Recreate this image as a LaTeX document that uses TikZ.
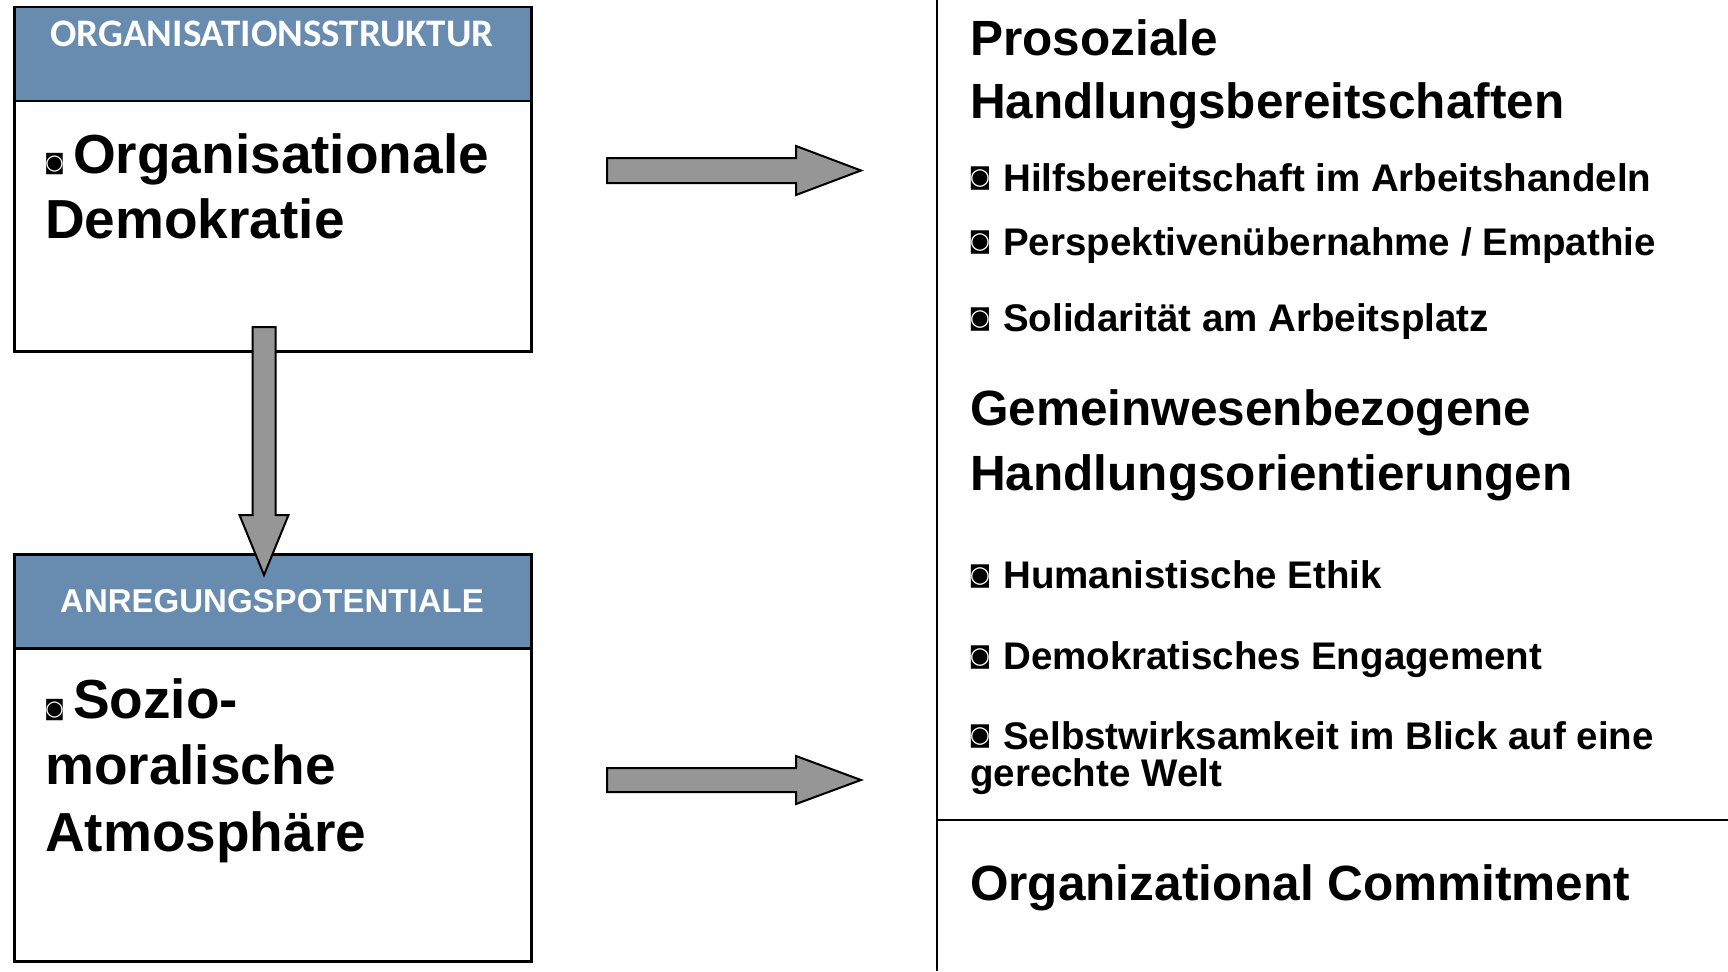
\documentclass[tikz,border=0pt]{standalone}
\usepackage{fontspec}
\setmainfont{Liberation Sans}
\newfontfamily\carl{Carlito}
\newfontfamily\dejavu{DejaVu Sans}
\definecolor{hdr}{RGB}{104,140,175}
\definecolor{arr}{RGB}{150,150,150}
\tikzset{
 box/.style={draw=black, line width=2.5pt, anchor=north west, inner sep=0pt, minimum width=517pt},
 hdrbox/.style={box, fill=hdr, minimum height=94pt},
 blockarrow/.style={draw=black, line width=2pt, fill=arr, line join=miter},
 big/.style={anchor=base west, inner sep=0pt, font={\fontsize{55}{55}\selectfont\bfseries}},
 headtxt/.style={anchor=base west, inner sep=0pt, font={\fontsize{49.5}{49.5}\selectfont\bfseries}},
 item/.style={anchor=base west, inner sep=0pt, font={\fontsize{38.5}{38.5}\selectfont\bfseries}},
 bulR/.style={inner sep=0pt, font={\dejavu\fontsize{23}{23}\selectfont}},
 bulL/.style={inner sep=0pt, font={\dejavu\fontsize{21}{21}\selectfont}},
 rule/.style={draw=black, line width=2.5pt},
}
\begin{document}
\begin{tikzpicture}[x=1pt,y=-1pt]
\useasboundingbox[fill=white] (0,0) rectangle (1728,971);
% left boxes
\node[box, minimum height=344pt] (b1) at (13,6) {};
\node[hdrbox] (h1) at (13,6) {};
\node[anchor=base, text=white, inner sep=0pt, font={\carl\fontsize{39}{39}\selectfont\bfseries}] (h1t) at (272,47) {ORGANISATIONSSTRUKTUR};
\node[bulL] (bl1) at (54.5,164) {◙};
\node[big] (t1a) at (73,173) {Organisationale};
\node[big] (t1b) at (45,238) {Demokratie};

\node[box, minimum height=407pt] (b2) at (13,553) {};
\node[hdrbox] (h2) at (13,553) {};
\node[anchor=base, text=white, inner sep=0pt, font={\fontsize{33}{33}\selectfont\bfseries}] (h2t) at (272,612) {ANREGUNGSPOTENTIALE};
\node[bulL] (bl2) at (54.5,710) {◙};
\node[big] (t2a) at (73,718) {Sozio-};
\node[big] (t2b) at (45,784) {moralische};
\node[big] (t2c) at (45,851) {Atmosphäre};

% vertical block arrow
\draw[blockarrow] (252.5,327) -- (275.5,327) -- (275.5,515) -- (288.5,515) -- (264,575) -- (239.5,515) -- (252.5,515) -- cycle;

% horizontal block arrows
\draw[blockarrow] (607,158) -- (796,158) -- (796,146) -- (861,170.5) -- (796,195) -- (796,183) -- (607,183) -- cycle;
\draw[blockarrow] (607,768) -- (796,768) -- (796,756) -- (861,780) -- (796,804) -- (796,792) -- (607,792) -- cycle;

% right panel rules
\coordinate (vt) at (937,0);
\coordinate (vb) at (937,971);
\coordinate (hl) at (937,820);
\coordinate (hr) at (1728,820);
\draw[rule] (vt) -- (vb);
\draw[rule] (hl) -- (hr);

% right texts
\node[headtxt] (r1a) at (970,56) {Prosoziale};
\node[headtxt] (r1b) at (970,118) {Handlungsbereitschaften};
\node[bulR] (br1) at (980,179) {◙};
\node[item] (i1) at (1003,191) {Hilfsbereitschaft im Arbeitshandeln};
\node[bulR] (br2) at (980,243) {◙};
\node[item] (i2) at (1003,255) {Perspektivenübernahme / Empathie};
\node[bulR] (br3) at (980,320) {◙};
\node[item] (i3) at (1003,331) {Solidarität am Arbeitsplatz};

\node[headtxt] (r2a) at (970,425) {Gemeinwesenbezogene};
\node[headtxt] (r2b) at (970,490) {Handlungsorientierungen};
\node[bulR] (br4) at (980,577) {◙};
\node[item] (i4) at (1003,588) {Humanistische Ethik};
\node[bulR] (br5) at (980,658) {◙};
\node[item] (i5) at (1003,669) {Demokratisches Engagement};
\node[bulR] (br6) at (980,737) {◙};
\node[item] (i6) at (1003,749) {Selbstwirksamkeit im Blick auf eine};
\node[item] (i6b) at (970,786) {gerechte Welt};

\node[headtxt] (r3) at (970,900) {Organizational Commitment};
\end{tikzpicture}
\end{document}
